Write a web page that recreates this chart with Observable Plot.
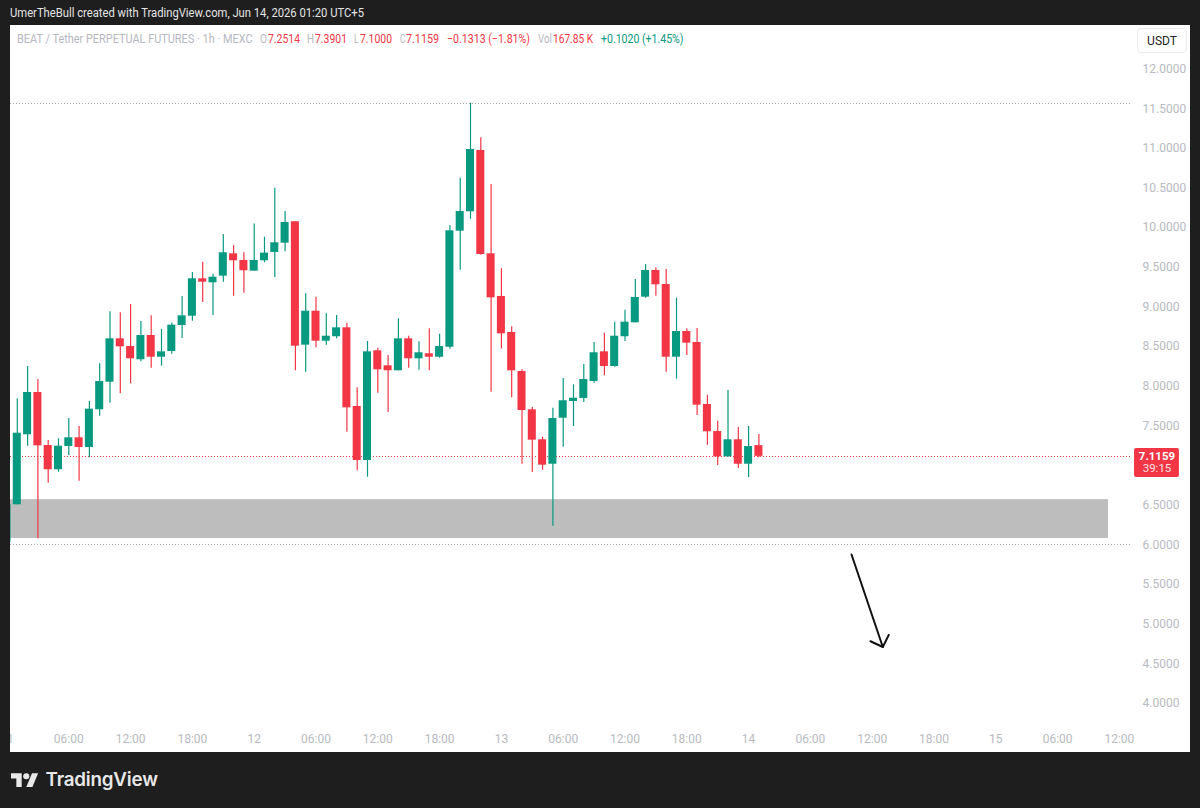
<!DOCTYPE html>
<html>
<head>
<meta charset="utf-8">
<script src="https://cdn.jsdelivr.net/npm/d3@7"></script>
<script src="https://cdn.jsdelivr.net/npm/@observablehq/plot@0.6"></script>
<style>
html,body{margin:0;padding:0;background:#1e1e1e;width:1200px;height:808px;overflow:hidden;font-family:Roboto,sans-serif}
#head{position:relative;height:25px;box-sizing:border-box}
#head span{position:absolute;left:9.5px;top:6px;color:#e4e4e4;font-size:12.5px;line-height:14px;white-space:nowrap;transform-origin:left center}
#panel{position:relative;margin-left:10px;width:1180px;height:727px;background:#fff;overflow:hidden}
#panel svg{display:block;max-width:none}
#legend span{position:absolute;top:7px;font-size:12px;line-height:14px;white-space:nowrap;transform-origin:left center}
#usdt{position:absolute;left:1127px;top:3px;width:50px;height:25px;line-height:25px;box-sizing:border-box;border:1px solid #ececec;border-radius:4px;text-align:center;font-size:12px;color:#222;background:#fff}
#foot{position:absolute;left:11px;top:772px;display:flex;align-items:center;color:#e8e8e8}
#foot b{margin-left:7px;font:600 18.8px/15px Inter,sans-serif;letter-spacing:-.2px}
</style>
</head>
<body>
<div id="head"><span data-w="354">UmerTheBull created with TradingView.com, Jun 14, 2026 01:20 UTC+5</span></div>
<div id="panel">
  <div id="plot"></div>
  <div id="legend"></div>
  <div id="usdt">USDT</div>
</div>
<div id="foot"><svg width="27.5" height="14" viewBox="0 4 36 18"><path fill="#e8e8e8" d="M14 22H7V11H0V4h14v18ZM28 22h-8l7.5-18h8L28 22Z"/><circle fill="#e8e8e8" cx="20" cy="8" r="4"/></svg><b>TradingView</b></div>
<script>
// hourly candles, first candle = Jun 11 00:00
const opens = [6.036,6.505,7.388,7.921,7.253,6.947,7.240,7.350,7.228,7.703,8.051,8.598,8.501,8.334,8.640,8.366,8.438,8.766,8.883,9.355,9.304,9.388,9.670,9.586,9.451,9.582,9.687,9.804,10.074,8.518,8.946,8.568,8.624,8.737,7.745,7.064,8.447,8.258,8.195,8.598,8.346,8.409,8.366,8.492,9.955,10.200,10.973,9.670,9.132,8.678,8.186,7.703,7.325,7.017,7.597,7.808,7.846,8.060,8.434,8.249,8.624,8.800,9.123,9.460,9.283,8.366,8.690,8.552,7.770,7.429,7.110,7.325,7.017,7.2514];
const highs = [6.509,7.842,8.249,8.085,7.316,7.337,7.593,7.493,7.808,8.283,8.939,8.926,9.031,8.817,8.888,8.716,8.795,9.132,9.434,9.564,9.413,9.913,9.775,9.683,10.046,9.879,10.497,10.204,10.074,9.166,9.123,8.914,8.892,8.795,7.980,8.564,8.480,8.388,8.851,8.631,8.561,8.724,8.656,10.027,10.623,11.569,11.133,10.544,9.481,8.750,8.207,7.732,7.358,7.723,8.098,8.018,8.274,8.552,8.669,8.808,8.959,9.346,9.535,9.494,9.472,9.110,8.724,8.728,7.887,7.559,7.946,7.480,7.493,7.3901];
const lows = [6.030,6.505,7.244,6.077,6.778,6.916,7.127,6.803,7.098,7.622,7.786,7.905,8.031,8.308,8.228,8.253,8.404,8.602,8.820,9.056,8.892,9.312,9.136,9.173,9.451,9.557,9.371,9.695,8.195,8.177,8.485,8.518,8.598,7.421,6.934,6.853,7.912,7.669,8.195,8.228,8.202,8.195,8.354,8.467,9.463,10.106,9.652,7.925,8.470,7.854,7.017,6.913,6.942,6.235,7.232,7.493,7.795,8.039,8.132,8.240,8.564,8.800,9.110,9.136,8.177,8.089,8.388,7.631,7.257,7.001,7.105,6.963,6.849,7.1000];
const closes = [6.509,7.408,7.921,7.249,6.947,7.244,7.350,7.228,7.711,8.060,8.598,8.497,8.346,8.640,8.366,8.434,8.770,8.888,9.355,9.312,9.375,9.683,9.582,9.456,9.586,9.678,9.809,10.065,8.505,8.946,8.568,8.631,8.737,7.728,7.064,8.434,8.207,8.195,8.598,8.346,8.422,8.366,8.501,9.960,10.204,10.985,9.661,9.115,8.661,8.195,7.694,7.320,7.005,7.593,7.817,7.849,8.085,8.422,8.249,8.631,8.808,9.119,9.460,9.279,8.366,8.690,8.543,7.761,7.426,7.110,7.325,7.017,7.240,7.1159];
const priceTicks = [4,4.5,5,5.5,6,6.5,7.5,8,8.5,9,9.5,10,10.5,11,11.5,12];
const timeHours = [0,6,12,18,24,30,36,42,48,54,60,66,72,78,84,90,96,102,108];
const timeLabels = ["11","06:00","12:00","18:00","12","06:00","12:00","18:00","13","06:00","12:00","18:00","14","06:00","12:00","18:00","15","06:00","12:00"];
const levelPrices = [11.565,6.005];
const levelEnd = 109.27;
const lastPrice = 7.1159;
const zone = {start:0,end:106.94,low:6.08,high:6.57};
const arrowHours = [81.99,85.03,83.83,85.03,85.61];
const arrowPrices = [5.879,4.712,4.785,4.712,4.866];
const arrowGroups = [0,0,1,1,1];
const tagBox = {x1:109.47,x2:113.83,y1:6.85,y2:7.215,xc:111.65};
const legendTexts = ["BEAT / Tether PERPETUAL FUTURES · 1h · MEXC","O","7.2514","H","7.3901","L","7.1000","C","7.1159","−0.1313 (−1.81%)","Vol","167.85 K","+0.1020 (+1.45%)"];
const legendKinds = ["label","label","down","label","down","label","down","label","down","down","label","down","up"];

const GREEN="#089981", RED="#f23645", GREY="#b8bac0";
const legendLeft = [6.7,250,258,297,305,344,349.5,390,396,437,528,543,591];
const legendWidth = [235.5,7,32,7,32,4.5,32,5.5,33,83,14,40,82.5];
const kindColor = {label:"#b6b8bf",down:RED,up:GREEN};
const candles = opens.map((o,i)=>({h:i,o,hi:highs[i],lo:lows[i],c:closes[i],col:closes[i]>=o?GREEN:RED}));
const halfBody = 0.39;

const chart = Plot.plot({
  width:1180, height:727,
  marginLeft:0, marginTop:0, marginRight:48, marginBottom:18,
  style:{fontFamily:"Roboto,sans-serif",fontSize:"12px",background:"#fff"},
  x:{type:"linear",domain:[0,120],range:[-3.5,1232.5]},
  y:{type:"linear",domain:[4,12],range:[678,43.5]},
  marks:[
    Plot.rect([zone],{x1:"start",x2:"end",y1:"low",y2:"high",fill:"#bdbdbd"}),
    Plot.ruleY(levelPrices,{y:d=>d,x1:0,x2:levelEnd,stroke:"#a8a8a8",strokeDasharray:"1,2",strokeWidth:1,shapeRendering:"crispEdges"}),
    Plot.ruleY([lastPrice],{y:d=>d,x1:0,x2:levelEnd,stroke:RED,strokeDasharray:"1,2",strokeWidth:1,shapeRendering:"crispEdges"}),
    Plot.ruleX(candles,{x:"h",y1:"lo",y2:"hi",stroke:"col",strokeWidth:1.2}),
    Plot.rect(candles,{x1:d=>d.h-halfBody,x2:d=>d.h+halfBody,y1:"o",y2:"c",fill:"col"}),
    Plot.line(arrowHours.map((h,i)=>({h,p:arrowPrices[i],g:arrowGroups[i]})),{x:"h",y:"p",z:"g",stroke:"#111",strokeWidth:2,curve:"linear"}),
    Plot.axisY({anchor:"right",ticks:priceTicks,tickSize:0,tickPadding:0,tickFormat:d3.format(".4f"),label:null,fill:GREY,stroke:null}),
    Plot.axisX({anchor:"bottom",ticks:timeHours,tickSize:0,tickPadding:0,tickFormat:d=>timeLabels[timeHours.indexOf(d)],label:null,fill:GREY,stroke:null}),
    Plot.rect([tagBox],{x1:"x1",x2:"x2",y1:"y1",y2:"y2",fill:RED,rx:2}),
    Plot.text([lastPrice],{x:tagBox.xc,y:d=>d,text:d=>d.toFixed(4),fill:"#fff",fontWeight:700,fontSize:11.5}),
    Plot.text(["39:15"],{x:tagBox.xc,y:lastPrice,dy:12,text:d=>d,fill:"#ffe0e3",fontSize:11.5})
  ]
});
document.getElementById("plot").appendChild(chart);
const lg=document.getElementById("legend");
legendTexts.forEach((t,i)=>{const s=document.createElement("span");s.textContent=t;s.style.left=legendLeft[i]+"px";s.style.color=kindColor[legendKinds[i]];s.dataset.w=legendWidth[i];lg.appendChild(s);});
document.querySelectorAll("span[data-w]").forEach(s=>{const w=s.getBoundingClientRect().width;s.style.transform=`scaleX(${(+s.dataset.w)/w})`;});
</script>
</body>
</html>
